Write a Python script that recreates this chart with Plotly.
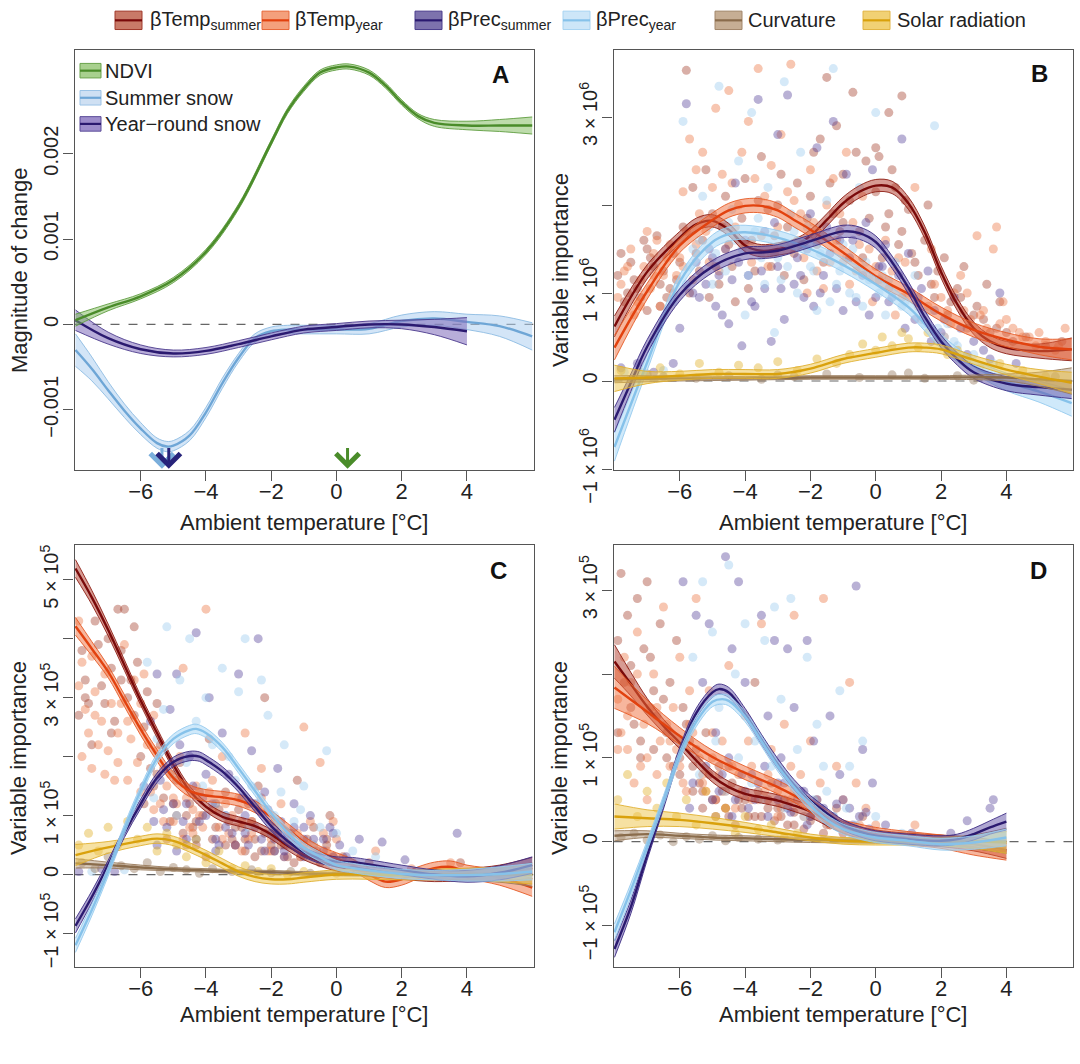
import plotly.graph_objects as go

FONT = "Liberation Sans, Arial, Helvetica, sans-serif"
W, H = 1080, 1064

# ---------------- Panel A : magnitude of change ----------------
A_ndvi_x = [-8, -7, -6, -5, -4, -3, -2, -1.5, -1, -0.5, 0, 0.4, 1, 1.5, 2, 2.5, 3, 4, 5, 6]
A_ndvi_y = [0.00005, 0.0002, 0.00033, 0.00052, 0.00085, 0.00138, 0.00213, 0.0025, 0.00276, 0.00295,
            0.00301, 0.00302, 0.00295, 0.0028, 0.0026, 0.00244, 0.00236, 0.00233, 0.00233, 0.00233]
A_ndvi_hw = [0.00007, 0.00004, 0.00003, 0.00003, 0.00003, 0.00003, 0.00003, 0.00003, 0.00003, 0.00003,
             0.00003, 0.00003, 0.00003, 0.00003, 0.00003, 0.00003, 0.00004, 0.00005, 0.00007, 0.0001]

A_ss_x = [-8, -7.5, -7, -6.5, -6, -5.5, -5.2, -5, -4.5, -4, -3.5, -3, -2.5, -2, -1.5, -1, 0, 1, 2, 3, 4, 5, 6]
A_ss_y = [-0.0003, -0.00052, -0.00077, -0.00101, -0.00122, -0.00139, -0.00143, -0.00142, -0.0013, -0.00103,
          -0.00069, -0.00039, -0.00016, -0.00008, -0.00006, -0.00006, -0.00006, -0.00005, 0.00004, 0.00007,
          0.00003, -0.00002, -0.00014]
A_ss_hw = [0.00019, 0.00014, 0.0001, 0.00008, 0.00007, 0.00006, 0.00006, 0.00006, 0.00006, 0.00006, 0.00006,
           0.00005, 0.00005, 0.00005, 0.00005, 0.00005, 0.00005, 0.00006, 0.00007, 0.00008, 0.00009, 0.00012, 0.00016]

A_yr_x = [-8, -7, -6, -5, -4, -3, -2, -1, 0, 1, 2, 3, 4]
A_yr_y = [0.00005, -0.00016, -0.00029, -0.00034, -0.00031, -0.00023, -0.00014, -0.00006, -0.00003, 0.0, 0.0,
          -0.00003, -0.00008]
A_yr_hw = [0.00012, 0.00007, 0.00005, 0.00004, 0.00004, 0.00004, 0.00004, 0.00004, 0.00004, 0.00004, 0.00005,
           0.00009, 0.00016]

A_arrow_x = [-5.35, -5.14, 0.34]
A_arrow_top = -0.0013
A_arrow_tip = -0.00169

# ---------------- Panel B (units of 1e6) ----------------
B_ts_x = [-8, -7, -6, -5.5, -5, -4.5, -4, -3.5, -3, -2.5, -2, -1.5, -1, -0.5, 0, 0.5, 1, 1.5, 2, 2.5, 3, 3.5, 4, 5, 6]
B_ts_y = [0.62, 1.24, 1.63, 1.78, 1.82, 1.72, 1.54, 1.48, 1.50, 1.54, 1.65, 1.83, 2.02, 2.15, 2.22, 2.20, 2.02,
          1.69, 1.24, 0.87, 0.60, 0.45, 0.38, 0.34, 0.36]
B_ts_hw = [0.12, 0.08] + [0.07] * 21 + [0.08, 0.13]

B_ty_x = [-8, -7, -6, -5, -4.5, -4, -3.5, -3, -2.5, -2, -1, 0, 1, 2, 3, 4, 5, 6]
B_ty_y = [0.38, 1.02, 1.54, 1.83, 1.94, 1.99, 1.99, 1.94, 1.83, 1.72, 1.46, 1.19, 0.99, 0.76, 0.58, 0.47, 0.39, 0.36]
B_ty_hw = [0.14, 0.09] + [0.08] * 13 + [0.08, 0.09, 0.12]

B_ps_x = [-8, -7.5, -7, -6, -5, -4, -3.5, -3, -2, -1, -0.5, 0, 0.5, 1, 1.5, 2, 2.5, 3, 4, 5, 6]
B_ps_y = [-0.44, -0.02, 0.39, 0.98, 1.30, 1.45, 1.46, 1.48, 1.59, 1.70, 1.68, 1.58, 1.35, 1.06, 0.73, 0.45, 0.25,
          0.10, -0.03, -0.07, -0.10]
B_ps_hw = [0.14, 0.1, 0.08] + [0.07] * 15 + [0.08, 0.09, 0.1]

B_py_x = [-8, -7, -6, -5, -4.5, -4, -3, -2, -1, 0, 1, 1.5, 2, 3, 4, 5, 6]
B_py_y = [-0.75, 0.21, 1.13, 1.58, 1.67, 1.69, 1.63, 1.50, 1.32, 1.10, 0.84, 0.65, 0.45, 0.17, -0.01, -0.12, -0.25]
B_py_hw = [0.16, 0.09] + [0.08] * 12 + [0.1, 0.12, 0.15]

B_cu_x = [-8, -6, -4, -2, 0, 2, 4, 5, 6]
B_cu_y = [0.02, 0.03, 0.03, 0.04, 0.04, 0.04, 0.04, 0.02, 0.0]
B_cu_hw = [0.04, 0.03, 0.02, 0.02, 0.02, 0.02, 0.04, 0.08, 0.15]

B_so_x = [-8, -7, -6, -5, -4, -3, -2, -1, 0, 1, 1.5, 2, 3, 4, 5, 6]
B_so_y = [0.03, 0.04, 0.06, 0.08, 0.08, 0.08, 0.14, 0.25, 0.32, 0.38, 0.38, 0.36, 0.24, 0.13, 0.05, -0.02]
B_so_hw = [0.15, 0.07] + [0.05] * 11 + [0.06, 0.08, 0.12]

# scatter points panel B
B_ts_px = [-7.9, -7.7, -7.5, -7.3, -7.1, -7.0, -6.8, -6.6, -6.4, -6.2, -5.9, -5.8, -5.6, -5.4, -5.2, -5.0, -4.8,
           -4.6, -4.3, -4.0, -3.8, -3.5, -3.2, -3.0, -2.7, -2.4, -2.2, -1.9, -1.7, -1.5, -1.3, -1.2, -1.0, -0.7,
           -0.5, -0.3, 0.0, 0.2, 0.4, 0.6, 0.8, 1.0, 1.3, 1.6, 1.8, 2.2, 2.5, 2.8, 3.1, 3.5, 3.8, 4.2, 4.6, 5.2, 5.7,
           -7.8, -7.4, -7.2, -6.9, -6.7, -6.5, -6.3, -6.0, -5.7, -5.3, -4.9, -4.5, -4.1, -3.7, -3.3, -2.9, -2.5,
           -2.1, -1.8, -1.4, -1.1, -0.8, -0.6, -0.2, 0.1, 0.3, 0.5, 0.7, 0.9, 1.1, 1.5, 1.9, 2.3, 2.7, 3.3, 3.7,
           -7.6, -7.0, -6.6, -6.1, -5.5, -5.1, -4.7, -4.4, -3.9, -3.6, -3.1, -2.8, -2.3, -2.0, -1.6, -1.0, -0.4,
           0.0, 0.4, 0.8, 1.2, 1.7, 2.1, 2.6, 3.0, 3.4, 4.0]
B_ts_py = [1.2, 0.9, 1.35, 1.05, 1.6, 0.8, 1.3, 1.1, 0.95, 1.45, 1.75, 3.53, 2.2, 1.25, 2.4, 1.9, 1.1, 2.1, 0.9,
           2.3, 1.6, 2.55, 1.3, 2.0, 1.75, 2.25, 1.15, 2.6, 2.75, 3.45, 1.9, 2.9, 2.35, 3.28, 1.7, 2.5, 2.15, 1.4,
           3.05, 2.2, 3.24, 1.95, 1.2, 2.0, 0.95, 0.75, 1.05, 0.6, 0.85, 0.55, 0.9, 0.45, 0.5, 0.4, 0.45,
           1.45, 1.15, 0.95, 1.4, 1.65, 1.25, 1.05, 1.35, 1.0, 1.6, 1.3, 1.55, 1.85, 1.25, 1.95, 2.35, 1.45, 1.85,
           1.55, 2.25, 1.7, 2.05, 2.6, 1.85, 2.55, 1.75, 2.4, 1.55, 2.05, 1.45, 1.6, 1.25, 0.9, 1.3, 0.7, 0.6,
           1.0, 1.5, 0.85, 1.15, 1.45, 0.95, 1.75, 1.3, 1.05, 2.05, 1.65, 1.2, 1.55, 2.1, 1.35, 1.8, 1.4,
           2.65, 1.9, 1.7, 1.35, 1.1, 1.4, 0.95, 0.75, 1.1, 0.55]
B_ty_px = [-7.9, -7.6, -7.4, -7.2, -7.0, -6.8, -6.6, -6.3, -6.1, -5.9, -5.7, -5.5, -5.3, -5.1, -4.9, -4.7, -4.5,
           -4.3, -4.1, -3.9, -3.6, -3.4, -3.1, -2.9, -2.6, -2.3, -2.0, -1.8, -1.5, -1.2, -0.9, -0.6, -0.4, -0.1,
           0.3, 0.6, 0.9, 1.2, 1.4, 1.7, 2.1, 2.4, 2.7, 3.1, 3.4, 3.6, 3.7, 4.0, 4.4, 4.9, 5.5, 5.8,
           -7.8, -7.5, -7.3, -7.1, -6.9, -6.7, -6.5, -6.2, -6.0, -5.8, -5.6, -5.4, -5.0, -4.6, -4.2, -3.8, -3.5,
           -3.2, -2.8, -2.5, -2.2, -1.9, -1.6, -1.3, -1.0, -0.7, -0.2, 0.1, 0.5, 0.8, 1.1, 1.6, 2.0, 2.3, 2.6,
           2.9, 3.3, 3.9, 4.2, 4.7, 5.2,
           -7.7, -7.2, -6.8, -6.4, -5.9, -5.5, -5.2, -4.8, -4.4, -4.0, -3.7, -3.3, -3.0, -2.7, -2.4, -2.1, -1.7,
           -1.4, -1.1, -0.8, -0.5, 0.0, 0.4, 0.7, 1.3, 1.8, 2.2, 2.8, 3.2, 3.8, 4.5, 5.0, 5.6]
B_ty_py = [0.95, 1.3, 0.75, 1.15, 1.7, 1.45, 0.85, 1.55, 1.2, 2.15, 2.75, 1.55, 2.6, 1.35, 3.1, 2.35, 3.3, 1.75,
           2.6, 2.95, 3.55, 2.1, 1.45, 2.8, 3.6, 1.9, 2.4, 1.25, 2.0, 1.6, 2.6, 1.25, 2.1, 0.9, 1.6, 0.75, 1.35,
           2.2, 0.7, 1.5, 0.5, 1.0, 0.8, 1.65, 0.6, 1.5, 1.75, 0.7, 0.55, 0.4, 0.35, 0.6,
           1.1, 1.5, 0.9, 1.3, 1.05, 1.6, 1.2, 1.0, 1.4, 1.7, 1.15, 1.9, 2.2, 1.5, 2.0, 1.35, 1.65, 2.45, 1.55,
           2.05, 1.4, 1.8, 1.05, 2.3, 1.35, 1.8, 1.5, 1.15, 1.25, 0.95, 1.0, 0.85, 0.95, 0.65, 1.2, 0.7, 0.8, 0.9,
           0.6, 0.5, 0.45,
           1.25, 0.85, 1.2, 1.4, 1.3, 2.4, 1.7, 1.25, 2.25, 1.55, 2.3, 1.3, 1.75, 2.15, 1.6, 1.0, 1.65, 1.35,
           1.9, 1.1, 1.55, 1.3, 1.05, 1.4, 0.85, 1.1, 0.8, 1.0, 0.75, 0.65, 0.5, 0.55, 0.4]
B_ps_px = [-7.8, -7.3, -6.8, -6.2, -5.8, -5.5, -5.2, -4.9, -4.6, -4.3, -4.1, -3.9, -3.6, -3.4, -3.2, -3.0, -2.9,
           -2.7, -2.4, -2.2, -2.0, -1.8, -1.6, -1.3, -1.1, -0.9, -0.6, -0.3, -0.1, 0.2, 0.5, 0.8, 1.0, 1.4, 1.8,
           2.2, 2.6, 3.0, 3.5, 3.8, 4.3,
           -5.6, -5.0, -4.7, -4.4, -4.0, -3.7, -3.5, -3.1, -2.8, -2.5, -2.1, -1.9, -1.5, -1.2, -0.8, -0.4, 0.0,
           0.3, 0.7, 1.2, 1.6, 2.0, 2.4, 3.3,
           -6.0, -5.4, -5.1, -4.8, -4.5, -4.2, -3.8, -3.4, -3.0, -2.6, -2.3, -1.7, -1.4, -1.0, -0.7, -0.2, 0.1,
           0.4, 0.9, 1.3, 1.7, 2.1, 2.8]
B_ps_py = [0.15, 0.2, 0.1, 0.2, 3.15, 1.35, 1.1, 0.85, 1.5, 2.25, 0.4, 1.2, 3.2, 1.7, 0.45, 2.8, 1.05, 3.25, 1.4,
           0.95, 1.9, 2.65, 1.2, 2.95, 1.6, 2.35, 0.9, 1.8, 2.4, 1.3, 0.95, 2.75, 1.45, 1.05, 0.8, 0.35, 0.6, 0.45,
           0.25, 1.0, 0.2,
           1.0, 1.4, 0.75, 1.15, 1.6, 0.85, 1.25, 1.8, 0.7, 1.1, 1.5, 0.85, 1.75, 1.05, 1.4, 1.2, 0.95, 1.55, 1.2,
           0.7, 1.25, 0.55, 0.95, 0.35,
           0.6, 0.95, 1.5, 1.2, 0.65, 1.35, 0.9, 1.05, 1.3, 1.55, 1.2, 1.0, 1.45, 0.8, 1.6, 0.75, 1.3, 0.9, 0.6,
           0.95, 0.45, 0.7, 0.3]
B_py_px = [-7.7, -7.0, -6.5, -5.9, -5.6, -5.3, -5.0, -4.8, -4.5, -4.2, -4.0, -3.8, -3.5, -3.3, -3.1, -2.8, -2.5,
           -2.3, -2.0, -1.8, -1.5, -1.3, -1.0, -0.8, -0.5, -0.2, 0.0, 0.3, 0.6, 0.9, 1.2, 1.5, 1.8, 2.1, 2.5, 3.0, 3.6,
           -5.7, -5.1, -4.6, -4.3, -3.9, -3.6, -3.2, -2.9, -2.6, -2.2, -1.9, -1.6, -1.2, -0.9, -0.6, -0.3, 0.1,
           0.4, 0.8, 1.3, 1.6, 2.2,
           -6.2, -5.8, -5.4, -4.9, -4.4, -4.1, -3.7, -3.4, -3.0, -2.7, -2.4, -2.1, -1.7, -1.4, -1.1, -0.7, -0.4,
           0.2, 0.5, 1.0, 1.4, 1.9, 2.4]
B_py_py = [0.1, 0.05, 0.12, 2.95, 1.5, 2.1, 1.1, 3.35, 1.8, 2.5, 0.75, 3.05, 1.4, 2.2, 0.55, 3.4, 1.7, 2.6, 1.3,
           0.8, 2.05, 3.55, 1.55, 1.0, 2.2, 1.15, 3.05, 0.75, 1.35, 0.9, 1.2, 0.65, 2.9, 0.5, 0.4, 0.3, 0.2,
           1.3, 1.75, 1.25, 1.6, 1.2, 1.85, 1.45, 1.15, 1.9, 1.55, 1.25, 1.65, 1.1, 1.4, 0.95, 1.35, 1.0, 1.15,
           0.85, 0.9, 0.8, 0.65,
           0.9, 1.1, 1.6, 1.45, 1.95, 1.5, 1.7, 1.1, 1.4, 1.3, 1.0, 1.75, 1.45, 0.9, 1.25, 1.5, 0.85, 1.2, 0.95,
           1.0, 0.7, 0.6, 0.45]
B_so_px = [-7.8, -7.2, -6.6, -6.0, -5.4, -4.8, -4.2, -3.6, -3.0, -2.4, -1.8, -1.2, -0.8, -0.4, 0.0, 0.2, 0.5, 0.8,
           1.0, 1.3, 1.6, 1.9, 2.2, 2.5, 2.8, 3.2, 3.8, 4.5, 5.2]
B_so_py = [0.12, 0.1, 0.15, 0.08, 0.2, 0.1, 0.18, 0.15, 0.22, 0.12, 0.25, 0.2, 0.3, 0.42, 0.35, 0.5, 0.4, 0.55,
           0.48, 0.38, 0.55, 0.45, 0.3, 0.35, 0.25, 0.15, 0.2, 0.12, 0.05]
B_cu_px = [-7.5, -7.0, -6.5, -5.5, -4.5, -3.5, -3.0, -2.5, -1.5, -0.5, 0.5, 1.0, 1.5, 2.5, 3.0, 3.5, 4.5, 5.5]
B_cu_py = [0.02, 0.08, 0.05, 0.03, 0.06, 0.02, 0.07, 0.05, 0.08, 0.04, 0.07, 0.09, 0.03, 0.06, 0.01, 0.04, 0.02, 0.05]

# ---------------- Panel C (units of 1e5) ----------------
C_ts_x = [-8, -7.5, -7, -6.5, -6, -5.5, -5, -4.5, -4, -3.5, -3, -2.5, -2, -1.5, -1, -0.5, 0, 1, 2, 3, 4, 5, 6]
C_ts_y = [5.19, 4.70, 4.15, 3.55, 2.95, 2.40, 1.86, 1.42, 1.15, 0.98, 0.90, 0.82, 0.68, 0.49, 0.33, 0.22, 0.14,
          0.05, 0.0, -0.03, 0.0, 0.03, 0.11]
C_ts_hw = [0.15, 0.12, 0.1, 0.09] + [0.08] * 15 + [0.09, 0.1, 0.13, 0.18]

C_ty_x = [-8, -7.5, -7, -6.5, -6, -5.5, -5, -4.5, -4, -3.5, -3, -2.5, -2, -1.5, -1, -0.5, 0, 0.5, 1, 1.5, 2, 2.5,
          3, 3.5, 4, 5, 6]
C_ty_y = [4.21, 3.83, 3.44, 2.95, 2.46, 2.02, 1.64, 1.42, 1.34, 1.31, 1.26, 1.15, 0.98, 0.77, 0.55, 0.38, 0.27,
          0.16, 0.0, -0.12, -0.08, 0.03, 0.11, 0.13, 0.05, -0.05, -0.22]
C_ty_hw = [0.15, 0.12] + [0.1] * 22 + [0.11, 0.13, 0.15]

C_ps_x = [-8, -7.5, -7, -6.5, -6, -5.5, -5, -4.5, -4.2, -4, -3.5, -3, -2.5, -2, -1.5, -1, -0.5, 0, 0.5, 1, 2, 3,
          4, 5, 6]
C_ps_y = [-0.87, -0.38, 0.16, 0.71, 1.20, 1.64, 1.91, 2.01, 2.0, 1.94, 1.75, 1.48, 1.15, 0.82, 0.57, 0.38, 0.27,
          0.22, 0.21, 0.17, 0.08, 0.0, -0.03, 0.03, 0.16]
C_ps_hw = [0.12, 0.1] + [0.08] * 20 + [0.1, 0.12, 0.14]

C_py_x = [-8, -7.5, -7, -6.5, -6, -5.5, -5, -4.5, -4.3, -4, -3.5, -3, -2.5, -2, -1.5, -1, -0.5, 0, 0.5, 1, 2, 3,
          4, 5, 6]
C_py_y = [-1.2, -0.6, 0.05, 0.77, 1.42, 1.97, 2.30, 2.45, 2.47, 2.40, 2.16, 1.80, 1.42, 1.04, 0.71, 0.46, 0.30,
          0.16, 0.11, 0.07, 0.01, -0.01, -0.01, 0.01, 0.05]
C_py_hw = [0.12, 0.1] + [0.08] * 20 + [0.1, 0.12, 0.14]

C_so_x = [-8, -7, -6, -5.5, -5, -4.5, -4, -3.5, -3, -2.5, -2, -1.5, -1, 0, 1, 2, 3, 4, 5, 6]
C_so_y = [0.33, 0.46, 0.57, 0.61, 0.57, 0.46, 0.33, 0.19, 0.05, -0.04, -0.08, -0.08, -0.05, 0.0, 0.0, -0.01, 0.0,
          0.01, 0.0, 0.0]
C_so_hw = [0.18, 0.1] + [0.08] * 14 + [0.09, 0.1, 0.12, 0.16]

C_cu_x = [-8, -7, -6, -5, -4, -3, -2, -1, 0, 2, 4, 5, 6]
C_cu_y = [0.19, 0.16, 0.12, 0.09, 0.07, 0.05, 0.04, 0.02, 0.01, 0.0, -0.02, -0.01, 0.0]
C_cu_hw = [0.08, 0.05, 0.04, 0.03, 0.03, 0.03, 0.03, 0.03, 0.03, 0.04, 0.08, 0.12, 0.2]

C_ts_px = [-7.9, -7.7, -7.5, -7.3, -7.1, -6.9, -6.7, -6.5, -6.4, -6.2, -6.1, -5.9, -5.7, -5.5, -5.3, -5.1, -4.9,
           -4.7, -4.5, -4.3, -4.1, -3.9, -3.7, -3.4, -3.2, -3.0, -2.8, -2.6, -2.4, -2.2, -2.0, -1.8, -1.5, -1.2,
           -1.0, -0.7, -0.5, -0.2, 0.2, 1.0, 3.8,
           -7.8, -7.6, -7.2, -7.0, -6.8, -6.6, -6.3, -6.0, -5.8, -5.6, -5.4, -5.0, -4.8, -4.6, -4.4, -4.2, -3.8,
           -3.6, -3.3, -3.1, -2.9, -2.7, -2.5, -2.3, -1.9, -1.7, -1.4, -1.1, -0.9, -0.6, -0.3, -0.1,
           -7.7, -7.4, -6.9, -6.6, -6.2, -5.9, -5.5, -5.2, -4.9, -4.6, -4.3, -4.0, -3.7, -3.4, -3.1, -2.8, -2.5,
           -2.2, -1.9, -1.6, -1.3, -1.0, -0.6, -0.3]
C_ts_py = [2.7, 3.3, 2.2, 3.9, 2.9, 3.5, 4.5, 4.5, 3.0, 4.2, 3.6, 2.5, 1.8, 2.9, 1.3, 0.9, 1.6, 0.7, 1.2, 0.5, 1.0,
           2.3, 0.8, 1.4, 0.6, 1.1, 0.4, 0.9, 1.5, 3.0, 0.5, 0.7, 0.3, 1.6, 0.4, 0.8, 0.2, 1.0, 0.3, 0.2, 0.2,
           3.8, 2.9, 3.2, 4.0, 2.6, 3.8, 3.3, 2.0, 3.1, 1.5, 2.2, 1.2, 1.9, 1.0, 0.8, 1.4, 0.6, 1.1, 0.9, 0.5, 0.8,
           1.2, 0.6, 0.4, 0.9, 0.5, 0.7, 0.3, 0.6, 0.4, 0.5, 0.3,
           3.0, 4.3, 2.4, 3.3, 2.7, 1.2, 1.7, 0.6, 1.0, 0.5, 0.9, 0.3, 1.2, 0.5, 0.8, 0.6, 0.3, 0.7, 0.4, 0.5,
           0.2, 0.5, 0.3, 0.6]
C_ty_px = [-7.9, -7.8, -7.6, -7.5, -7.4, -7.2, -7.0, -6.8, -6.6, -6.5, -6.3, -6.1, -5.9, -5.7, -5.5, -5.3, -5.1,
           -4.9, -4.7, -4.5, -4.3, -4.0, -3.8, -3.5, -3.3, -3.0, -2.8, -2.6, -2.3, -2.0, -1.7, -1.4, -1.0, -0.8,
           -0.5, -0.3, 0.0, 0.5, 1.2, 2.3, 3.5,
           -7.9, -7.7, -7.5, -7.3, -7.1, -6.9, -6.7, -6.4, -6.2, -6.0, -5.8, -5.6, -5.4, -5.2, -5.0, -4.8, -4.6,
           -4.4, -4.2, -3.9, -3.6, -3.4, -3.1, -2.9, -2.7, -2.4, -2.1, -1.9, -1.6, -1.2, -0.9, -0.6, -0.1,
           -7.8, -7.4, -7.1, -6.7, -6.4, -6.0, -5.6, -5.3, -5.0, -4.7, -4.4, -4.1, -3.8, -3.5, -3.2, -2.9, -2.6,
           -2.3, -2.0, -1.7, -1.4, -1.1, -0.7, -0.4]
C_ty_py = [4.3, 3.6, 2.4, 1.8, 3.1, 2.6, 2.1, 1.6, 2.9, 3.9, 2.3, 1.9, 3.4, 1.4, 2.1, 0.9, 1.7, 1.2, 3.5, 0.8, 1.5,
           4.5, 1.1, 2.0, 0.7, 1.3, 2.4, 0.9, 1.8, 0.6, 1.2, 0.5, 2.5, 0.9, 1.9, 0.4, 0.6, 0.2, 0.4, 0.1, 0.2,
           3.2, 2.8, 3.7, 2.2, 3.4, 2.9, 1.9, 2.6, 3.3, 1.4, 2.2, 2.7, 1.2, 1.5, 0.9, 2.0, 1.3, 0.7, 1.0, 1.4, 0.8,
           1.2, 0.5, 0.9, 0.6, 1.1, 0.4, 0.8, 0.3, 0.7, 0.5, 0.3, 0.9,
           2.0, 2.7, 1.7, 2.4, 1.6, 2.9, 1.1, 1.8, 1.3, 0.6, 1.1, 0.8, 1.6, 0.6, 1.0, 0.4, 0.7, 1.3, 0.4, 0.8,
           0.6, 0.3, 0.5, 0.7]
C_ps_px = [-7.9, -7.2, -6.8, -5.9, -5.7, -5.5, -5.3, -5.1, -4.9, -4.7, -4.5, -4.3, -4.1, -3.9, -3.7, -3.5, -3.3,
           -3.0, -2.8, -2.6, -2.4, -2.2, -2.0, -1.8, -1.6, -1.3, -1.0, -0.8, -0.5, -0.2, 0.3, 0.7, 1.4, 2.1, 3.7,
           -5.6, -5.4, -5.0, -4.8, -4.6, -4.4, -4.2, -4.0, -3.8, -3.6, -3.4, -3.2, -2.9, -2.7, -2.5, -2.3, -2.1,
           -1.9, -1.7, -1.5, -1.2, -1.0, -0.7, -0.4, -0.1, 0.1,
           -5.5, -5.2, -4.9, -4.6, -4.3, -4.0, -3.7, -3.4, -3.1, -2.8, -2.5, -2.2, -1.9, -1.6, -1.3, -1.0, -0.7,
           -0.4, -0.1]
C_ps_py = [0.05, 0.1, 0.05, 1.5, 2.6, 3.4, 1.1, 2.8, 3.4, 0.9, 2.0, 4.1, 1.3, 3.0, 0.6, 2.4, 1.7, 3.4, 1.0, 2.1,
           4.0, 1.4, 0.7, 1.8, 0.4, 1.2, 0.6, 1.0, 0.3, 0.8, 0.3, 0.6, 0.55, 0.25, 0.7,
           0.9, 1.6, 1.2, 2.2, 0.6, 1.5, 0.9, 1.7, 1.2, 0.5, 1.0, 0.7, 1.3, 0.5, 0.8, 0.6, 1.1, 0.4, 0.9, 0.7, 0.5,
           0.8, 0.4, 0.6, 0.3, 0.5,
           0.5, 0.8, 0.4, 1.2, 0.6, 1.0, 0.4, 0.8, 0.5, 0.7, 1.2, 0.4, 0.6, 0.3, 0.8, 0.3, 0.6, 0.4, 0.7]
C_py_px = [-7.5, -6.5, -5.8, -5.5, -5.2, -5.0, -4.8, -4.5, -4.3, -4.0, -3.7, -3.5, -3.3, -3.0, -2.8, -2.6, -2.3,
           -2.1, -1.9, -1.6, -1.3, -1.0, -0.7, -0.3, 0.0, 0.5, 1.2,
           -5.6, -5.3, -4.9, -4.6, -4.1, -3.8, -3.4, -3.1, -2.7, -2.4, -2.0, -1.7, -1.4, -1.1, -0.8, -0.5]
C_py_py = [0.05, 0.08, 3.6, 2.3, 4.2, 1.7, 3.3, 4.0, 2.6, 3.0, 1.2, 3.5, 2.0, 3.1, 4.0, 1.5, 3.3, 2.7, 1.0, 2.2,
           0.9, 1.5, 0.5, 2.1, 0.7, 0.4, 0.3,
           1.3, 2.8, 1.0, 1.9, 1.5, 2.2, 1.0, 1.6, 0.8, 1.2, 0.7, 1.4, 0.5, 1.1, 0.4, 0.8]
C_so_px = [-7.9, -7.6, -7.3, -7.0, -6.7, -6.4, -6.1, -5.8, -5.5, -5.2, -4.9, -4.6, -4.3, -4.0, -3.6, -3.2, -2.8,
           -2.4, -2.0, -1.5, -1.0, 0.0, 1.0]
C_so_py = [0.5, 0.7, 0.4, 0.8, 0.5, 0.9, 0.6, 0.8, 0.4, 0.7, 0.5, 0.3, 0.6, 0.2, 0.4, 0.1, 0.15, 0.05, 0.1, 0.0,
           0.05, 0.02, 0.0]
C_cu_px = [-7.8, -7.4, -7.0, -6.6, -6.2, -5.8, -5.4, -5.0, -4.6, -4.2, -3.8, -3.2, -2.6, -2.0, -1.4, -0.8]
C_cu_py = [0.2, 0.1, 0.3, 0.15, 0.1, 0.2, 0.05, 0.12, 0.08, 0.02, 0.1, 0.05, 0.08, 0.03, 0.05, 0.02]

# ---------------- Panel D (units of 1e5) ----------------
D_ts_x = [-8, -7.5, -7, -6.5, -6, -5.5, -5, -4.5, -4, -3.5, -3, -2.5, -2, -1.5, -1, -0.5, 0, 1, 2, 3, 4]
D_ts_y = [2.15, 1.88, 1.61, 1.38, 1.18, 0.97, 0.78, 0.65, 0.57, 0.53, 0.49, 0.43, 0.36, 0.26, 0.17, 0.11, 0.07,
          0.03, 0.01, -0.03, -0.10]
D_ts_hw = [0.2, 0.14, 0.1, 0.08] + [0.07] * 14 + [0.07, 0.08, 0.1]

D_ty_x = [-8, -7, -6, -5, -4, -3, -2.5, -2, -1.5, -1, -0.5, 0, 1, 2, 3, 4]
D_ty_y = [1.84, 1.55, 1.26, 1.01, 0.82, 0.65, 0.55, 0.43, 0.30, 0.18, 0.13, 0.09, 0.04, 0.0, -0.07, -0.12]
D_ty_hw = [0.25, 0.14, 0.1] + [0.08] * 11 + [0.09, 0.1]

D_ps_x = [-8, -7.5, -7, -6.5, -6, -5.5, -5, -4.8, -4.5, -4, -3.5, -3, -2.5, -2, -1.5, -1, -0.5, 0, 1, 2, 2.5, 3,
          3.5, 4]
D_ps_y = [-1.28, -0.78, -0.16, 0.45, 1.07, 1.53, 1.78, 1.82, 1.78, 1.53, 1.22, 0.93, 0.68, 0.49, 0.34, 0.20, 0.12,
          0.07, 0.03, 0.01, 0.03, 0.09, 0.17, 0.24]
D_ps_hw = [0.1, 0.08] + [0.06] * 19 + [0.07, 0.08, 0.1]

D_py_x = [-8, -7.5, -7, -6.5, -6, -5.5, -5, -4.7, -4.5, -4, -3.5, -3, -2.5, -2, -1.5, -1, -0.5, 0, 1, 2, 3, 4]
D_py_y = [-1.08, -0.58, -0.05, 0.49, 1.03, 1.43, 1.67, 1.70, 1.68, 1.49, 1.20, 0.90, 0.65, 0.43, 0.26, 0.15, 0.09,
          0.05, 0.01, -0.03, -0.01, 0.05]
D_py_hw = [0.1, 0.08] + [0.06] * 17 + [0.07, 0.08, 0.1]

D_so_x = [-8, -7, -6, -5, -4, -3, -2, -1, 0, 1, 2, 3, 4]
D_so_y = [0.30, 0.28, 0.26, 0.22, 0.17, 0.11, 0.05, 0.01, 0.0, 0.0, 0.0, 0.0, -0.01]
D_so_hw = [0.15, 0.1, 0.08, 0.07, 0.06, 0.05, 0.04, 0.04, 0.04, 0.04, 0.05, 0.08, 0.13]

D_cu_x = [-8, -7, -6, -5, -4, -2, 0, 2, 3, 4]
D_cu_y = [0.07, 0.09, 0.07, 0.05, 0.04, 0.02, 0.01, 0.0, 0.0, 0.01]
D_cu_hw = [0.06, 0.04, 0.03, 0.03, 0.03, 0.03, 0.03, 0.04, 0.08, 0.15]

D_ts_px = [-7.9, -7.8, -7.6, -7.5, -7.3, -7.2, -7.0, -6.9, -6.7, -6.6, -6.4, -6.3, -6.1, -6.0, -5.8, -5.6, -5.5,
           -5.3, -5.1, -4.9, -4.7, -4.5, -4.3, -4.0, -3.7, -3.5, -3.2, -3.0, -2.7, -2.4, -2.0, -1.6, -1.2, -0.8, -0.4,
           -7.7, -7.4, -7.1, -6.8, -6.5, -6.2, -5.9, -5.7, -5.4, -5.2, -5.0, -4.8, -4.6, -4.4, -4.2, -3.9, -3.6,
           -3.3, -3.1, -2.8, -2.5, -2.2, -1.8, -1.4, -1.0,
           -7.9, -7.5, -7.2, -6.8, -6.4, -6.0, -5.6, -5.3, -4.9, -4.5, -4.1, -3.7, -3.3, -2.9, -2.5, -2.0, -1.5]
D_ts_py = [2.4, 3.2, 2.7, 1.6, 2.9, 1.2, 3.1, 2.2, 1.5, 2.6, 1.0, 1.9, 2.4, 0.8, 1.4, 0.6, 1.1, 0.4, 0.8, 0.3, 0.6,
           0.9, 0.2, 0.5, 1.9, 0.3, 0.7, 0.4, 0.2, 0.6, 0.25, 0.1, 0.4, 0.15, 0.3,
           1.9, 1.4, 2.3, 1.1, 1.7, 0.9, 1.6, 1.2, 0.7, 1.3, 0.5, 0.9, 0.4, 0.7, 0.5, 0.3, 0.6, 0.4, 0.25, 0.5,
           0.35, 0.15, 0.4, 0.2, 0.1,
           1.3, 2.1, 1.0, 1.8, 1.3, 1.0, 0.9, 0.6, 0.5, 0.3, 0.4, 0.3, 0.5, 0.3, 0.2, 0.3, 0.2]
D_ty_px = [-7.9, -7.7, -7.6, -7.4, -7.3, -7.1, -7.0, -6.8, -6.6, -6.5, -6.3, -6.2, -6.0, -5.8, -5.6, -5.5, -5.3,
           -5.1, -4.9, -4.7, -4.5, -4.3, -4.0, -3.8, -3.5, -3.2, -3.0, -2.8, -2.5, -2.3, -2.0, -1.8, -1.6, -1.2,
           -0.8, -0.6, -0.3, 0.0, 1.2,
           -7.8, -7.5, -7.2, -6.9, -6.7, -6.4, -6.1, -5.9, -5.7, -5.4, -5.2, -5.0, -4.8, -4.6, -4.4, -4.1, -3.9,
           -3.6, -3.3, -2.9, -2.6, -2.1, -1.7, -1.4, -1.0, -0.5,
           -7.9, -7.6, -7.3, -7.0, -6.7, -6.3, -6.0, -5.7, -5.3, -5.0, -4.6, -4.2, -3.8, -3.4, -3.0, -2.6, -2.2,
           -1.8, -1.4]
D_ty_py = [1.7, 2.2, 1.1, 0.7, 2.5, 1.4, 0.5, 2.0, 1.2, 2.8, 0.9, 1.6, 2.2, 0.6, 1.3, 2.9, 0.8, 1.8, 0.5, 1.2, 2.1,
           0.4, 1.5, 0.9, 2.6, 1.1, 0.6, 1.4, 2.7, 0.8, 1.2, 0.5, 2.9, 0.9, 1.9, 0.7, 0.4, 0.2, 0.2,
           1.3, 1.9, 0.9, 1.6, 0.8, 1.4, 1.1, 0.7, 1.8, 1.0, 0.6, 1.3, 0.8, 0.4, 0.9, 0.6, 1.2, 0.5, 0.8, 0.4, 0.9,
           0.5, 0.7, 0.3, 0.5, 0.2,
           1.1, 1.5, 2.0, 1.0, 1.6, 1.2, 0.9, 1.4, 0.7, 1.0, 0.6, 0.8, 0.5, 0.6, 0.3, 0.5, 0.3, 0.4, 0.2]
D_ps_px = [-5.9, -5.5, -5.3, -5.1, -4.9, -4.6, -4.4, -4.2, -4.0, -3.8, -3.5, -3.3, -3.1, -2.9, -2.7, -2.5, -2.3,
           -2.1, -1.9, -1.7, -1.4, -1.1, -0.8, -0.6, -0.4, -0.1, 0.3, 1.1, 2.3, 2.8, 3.5, 3.6,
           -5.7, -5.2, -4.8, -4.5, -4.3, -4.1, -3.9, -3.6, -3.4, -3.0, -2.8, -2.6, -2.2, -2.0, -1.8, -1.5, -1.2,
           -0.9, -0.5, -0.2,
           -5.6, -5.0, -4.7, -4.4, -4.0, -3.7, -3.3, -3.0, -2.7, -2.4, -2.1, -1.6, -1.3, -1.0, -0.7, -0.3]
D_ps_py = [3.1, 2.7, 1.9, 2.6, 1.3, 3.4, 2.3, 3.1, 1.9, 0.8, 2.7, 1.5, 2.4, 1.0, 2.3, 1.6, 0.6, 2.4, 1.2, 0.4, 1.5,
           0.8, 0.4, 3.05, 1.1, 0.7, 0.2, 0.1, 0.1, 0.25, 0.4, 0.5,
           0.4, 0.9, 0.6, 1.0, 0.5, 0.8, 0.4, 0.7, 0.9, 0.5, 0.7, 0.35, 0.6, 0.3, 0.5, 0.25, 0.45, 0.2, 0.3, 0.15,
           0.7, 0.5, 0.8, 0.3, 0.6, 0.5, 0.3, 0.7, 0.4, 0.5, 0.2, 0.4, 0.3, 0.5, 0.2, 0.35]
D_py_px = [-5.6, -5.3, -5.0, -4.8, -4.5, -4.3, -4.0, -3.7, -3.4, -3.1, -2.9, -2.6, -2.4, -2.1, -1.8, -1.5, -1.1,
           -0.8, -0.4, 0.0, 0.8,
           -5.4, -4.9, -4.6, -4.2, -3.8, -3.5, -3.2, -2.8, -2.5, -2.2, -1.9, -1.6, -1.3, -0.9, -0.6]
D_py_py = [2.2, 3.1, 2.5, 1.6, 3.3, 2.0, 2.6, 1.2, 2.4, 2.8, 1.7, 2.9, 1.1, 2.2, 1.4, 0.6, 1.8, 0.9, 1.2, 0.3, 0.1,
           0.8, 1.2, 0.6, 1.0, 0.7, 0.5, 0.9, 0.4, 0.6, 0.3, 0.5, 0.9, 0.3, 0.4, 0.2]
D_so_px = [-7.9, -7.6, -7.3, -7.0, -6.7, -6.4, -6.1, -5.8, -5.5, -5.2, -4.9, -4.6, -4.3, -4.0, -3.6, -3.2, -2.8, -2.4]
D_so_py = [0.5, 0.8, 0.3, 0.6, 0.4, 0.7, 0.3, 0.5, 0.2, 0.6, 0.3, 0.4, 0.1, 0.3, 0.15, 0.2, 0.05, 0.1]
D_cu_px = [-7.8, -7.4, -7.0, -6.6, -6.2, -5.8, -5.4, -5.0, -4.6, -4.2, -3.6, -3.0]
D_cu_py = [0.05, 0.1, 0.02, 0.08, 0.0, 0.06, 0.03, 0.07, 0.01, 0.05, 0.03, 0.02]

# ---------------- styles ----------------
STY = {
    "ts": dict(line="#7a0a0a", edge="#8e1f15", fill="rgba(175,55,40,0.50)", pt="rgba(165,65,45,0.42)",
               sw_fill="#c97a68", sw_edge="#a0382a"),
    "ty": dict(line="#e2420f", edge="#e55a25", fill="rgba(240,110,60,0.50)", pt="rgba(235,120,70,0.42)",
               sw_fill="#f4a07c", sw_edge="#e8683a"),
    "ps": dict(line="#2b1a70", edge="#3d2c85", fill="rgba(95,80,165,0.50)", pt="rgba(80,60,150,0.40)",
               sw_fill="#7d72ad", sw_edge="#4b3d8c"),
    "py": dict(line="#86c2ea", edge="#96cbee", fill="rgba(175,218,246,0.60)", pt="rgba(150,200,238,0.40)",
               sw_fill="#cde6f8", sw_edge="#a8d4f2"),
    "cu": dict(line="#8a6c4c", edge="#9a7c5c", fill="rgba(175,148,118,0.50)", pt="rgba(145,115,85,0.42)",
               sw_fill="#c6ae94", sw_edge="#a2866a"),
    "so": dict(line="#d9a10c", edge="#e0b030", fill="rgba(238,195,70,0.50)", pt="rgba(225,175,35,0.42)",
               sw_fill="#f1d174", sw_edge="#e2b444"),
    "ndvi": dict(line="#4a8c2a", edge="#5f9d40", fill="rgba(125,185,90,0.50)", sw_fill="#a8d08e",
                 sw_edge="#6aa34c"),
    "ss": dict(line="#6ea6d6", edge="#8cbbe2", fill="rgba(175,208,240,0.55)", sw_fill="#cfe0f3",
               sw_edge="#9cc3e6"),
    "yr": dict(line="#2b1a70", edge="#4b3a8c", fill="rgba(125,105,185,0.55)", sw_fill="#9d8dcb",
               sw_edge="#5a4a98"),
}

fig = go.Figure()


def add_points(px, py, key, xa, ya):
    fig.add_trace(go.Scatter(x=px, y=py, mode="markers", xaxis=xa, yaxis=ya, showlegend=False,
                             hoverinfo="skip",
                             marker=dict(size=9, color=STY[key]["pt"], line=dict(width=0))))


def add_band(xs, ys, hw, key, xa, ya, lw=2.4):
    s = STY[key]
    lo = [y - h for y, h in zip(ys, hw)]
    up = [y + h for y, h in zip(ys, hw)]
    fig.add_trace(go.Scatter(x=xs, y=lo, mode="lines", xaxis=xa, yaxis=ya, showlegend=False, hoverinfo="skip",
                             line=dict(color=s["edge"], width=0.9, shape="spline", smoothing=1.0)))
    fig.add_trace(go.Scatter(x=xs, y=up, mode="lines", xaxis=xa, yaxis=ya, showlegend=False, hoverinfo="skip",
                             fill="tonexty", fillcolor=s["fill"],
                             line=dict(color=s["edge"], width=0.9, shape="spline", smoothing=1.0)))
    fig.add_trace(go.Scatter(x=xs, y=ys, mode="lines", xaxis=xa, yaxis=ya, showlegend=False, hoverinfo="skip",
                             line=dict(color=s["line"], width=lw, shape="spline", smoothing=1.0)))


# Panel A
add_band(A_ss_x, A_ss_y, A_ss_hw, "ss", "x", "y")
add_band(A_yr_x, A_yr_y, A_yr_hw, "yr", "x", "y")
add_band(A_ndvi_x, A_ndvi_y, A_ndvi_hw, "ndvi", "x", "y")

# Panels B, C, D
panels = [
    ("x2", "y2", [(B_ts_px, B_ts_py, "ts"), (B_ty_px, B_ty_py, "ty"), (B_ps_px, B_ps_py, "ps"),
                  (B_py_px, B_py_py, "py"), (B_cu_px, B_cu_py, "cu"), (B_so_px, B_so_py, "so")],
     [(B_ts_x, B_ts_y, B_ts_hw, "ts"), (B_ty_x, B_ty_y, B_ty_hw, "ty"), (B_py_x, B_py_y, B_py_hw, "py"),
      (B_ps_x, B_ps_y, B_ps_hw, "ps"), (B_cu_x, B_cu_y, B_cu_hw, "cu"), (B_so_x, B_so_y, B_so_hw, "so")]),
    ("x3", "y3", [(C_ts_px, C_ts_py, "ts"), (C_ty_px, C_ty_py, "ty"), (C_ps_px, C_ps_py, "ps"),
                  (C_py_px, C_py_py, "py"), (C_cu_px, C_cu_py, "cu"), (C_so_px, C_so_py, "so")],
     [(C_ts_x, C_ts_y, C_ts_hw, "ts"), (C_ty_x, C_ty_y, C_ty_hw, "ty"), (C_cu_x, C_cu_y, C_cu_hw, "cu"),
      (C_so_x, C_so_y, C_so_hw, "so"), (C_ps_x, C_ps_y, C_ps_hw, "ps"), (C_py_x, C_py_y, C_py_hw, "py")]),
    ("x4", "y4", [(D_ts_px, D_ts_py, "ts"), (D_ty_px, D_ty_py, "ty"), (D_ps_px, D_ps_py, "ps"),
                  (D_py_px, D_py_py, "py"), (D_cu_px, D_cu_py, "cu"), (D_so_px, D_so_py, "so")],
     [(D_ts_x, D_ts_y, D_ts_hw, "ts"), (D_ty_x, D_ty_y, D_ty_hw, "ty"), (D_cu_x, D_cu_y, D_cu_hw, "cu"),
      (D_so_x, D_so_y, D_so_hw, "so"), (D_ps_x, D_ps_y, D_ps_hw, "ps"), (D_py_x, D_py_y, D_py_hw, "py")]),
]
for xa, ya, pts, bands in panels:
    for px, py, k in pts:
        add_points(px, py, k, xa, ya)
    for xs, ys, hw, k in bands:
        add_band(xs, ys, hw, k, xa, ya)


# ---------------- layout ----------------
def px2x(p):
    return p / W


def px2y(p):
    return 1 - p / H


XDOM_L = [px2x(74.5), px2x(533.5)]
XDOM_R = [px2x(613.5), px2x(1073)]
YDOM_T = [px2y(485.5), px2y(51.5)]
YDOM_B = [px2y(999), px2y(563.5)]
XRANGE = [-8.03, 6.04]

xt_vals = [-6, -4, -2, 0, 2, 4]
xt_text = ["\u22126", "\u22124", "\u22122", "0", "2", "4"]

TICK = dict(ticks="outside", ticklen=10, tickwidth=1.3, tickcolor="#555555")
axis_common = dict(showline=True, mirror=True, linecolor="#555555", linewidth=1.3, showgrid=False,
                   zeroline=False, **TICK)


def xaxis(dom, anchor):
    d = dict(axis_common)
    d.update(domain=dom, anchor=anchor, range=XRANGE, tickmode="array", tickvals=xt_vals, ticktext=xt_text,
             ticklabelstandoff=-9, tickfont=dict(family=FONT, size=22, color="#222222"))
    return d


def yaxis(dom, anchor, rng, vals, text, minor_vals=None):
    d = dict(axis_common)
    d.update(domain=dom, anchor=anchor, range=rng, tickmode="array", tickvals=vals, ticktext=text,
             tickangle=-90, tickfont=dict(family=FONT, size=20, color="#222222"), ticklabelstandoff=-3)
    if minor_vals:
        d["minor"] = dict(tickmode="array", tickvals=minor_vals, showgrid=False, **TICK)
    return d


def sci(v, e):
    if v == 0:
        return "0"
    s = "\u2212" if v < 0 else ""
    return f"{s}{abs(v)} \u00d7 10<sup>{e}</sup>"


yA_vals = [-0.001, 0, 0.001, 0.002]
yA_text = ["\u22120.001", "0", "0.001", "0.002"]
yB_vals = [-1, 0, 1, 3]
yB_minor = [2]
yC_vals = [-1, 0, 1, 3, 5]
yC_minor = [2, 4]
yD_vals = [-1, 0, 1, 3]
yD_minor = [2]

fig.update_layout(
    width=W, height=H, margin=dict(l=0, r=0, t=0, b=0), autosize=False,
    paper_bgcolor="white", plot_bgcolor="white", showlegend=False,
    font=dict(family=FONT, size=20, color="#222222"),
    xaxis=xaxis(XDOM_L, "y"), yaxis=yaxis(YDOM_T, "x", [-0.0017045, 0.003216], yA_vals, yA_text),
    xaxis2=xaxis(XDOM_R, "y2"),
    yaxis2=yaxis(YDOM_T, "x2", [-1.011, 3.763], yB_vals, [sci(v, 6) for v in yB_vals], yB_minor),
    xaxis3=xaxis(XDOM_L, "y3"),
    yaxis3=yaxis(YDOM_B, "x3", [-1.569, 5.58], yC_vals, [sci(v, 5) for v in yC_vals], yC_minor),
    xaxis4=xaxis(XDOM_R, "y4"),
    yaxis4=yaxis(YDOM_B, "x4", [-1.496, 3.533], yD_vals, [sci(v, 5) for v in yD_vals], yD_minor),
)

shapes = []
annotations = []

# dashed zero lines
for xr, yr in [("x", "y"), ("x2", "y2"), ("x3", "y3"), ("x4", "y4")]:
    shapes.append(dict(type="line", xref=xr, yref=yr, x0=XRANGE[0], x1=XRANGE[1], y0=0, y1=0, layer="below",
                       line=dict(color="#666666", width=1.2, dash="dash")))

# arrows in panel A
arrow_cols = ["#7aaedb", "#27237a", "#4a8c2a"]
for ax_, col in zip(A_arrow_x, arrow_cols):
    annotations.append(dict(x=ax_, y=A_arrow_tip, ax=ax_, ay=A_arrow_top, xref="x", yref="y", axref="x",
                            ayref="y", showarrow=True, arrowhead=4, arrowsize=1.5, arrowwidth=3,
                            arrowcolor=col, text=" "))

# panel letters
for lab, x, y in [("A", 500, 77), ("B", 1039, 76), ("C", 498, 589), ("D", 1038, 589)]:
    annotations.append(dict(text=f"<b>{lab}</b>", x=px2x(x), y=px2y(y), xref="paper", yref="paper",
                            showarrow=False, font=dict(family=FONT, size=24, color="#111111"),
                            xanchor="center", yanchor="middle"))

# axis titles
for cx, cy in [(304, 540), (843, 540), (304, 1048), (843, 1048)]:
    annotations.append(dict(text="Ambient temperature [\u00b0C]", x=px2x(cx), y=px2y(cy), xref="paper",
                            yref="paper", showarrow=False, font=dict(family=FONT, size=22, color="#222222"),
                            xanchor="center", yanchor="middle"))
for txt, cx, cy in [("Magnitude of change", 19, 279), ("Variable importance", 560, 279),
                    ("Variable importance", 19, 783), ("Variable importance", 560, 783)]:
    annotations.append(dict(text=txt, x=px2x(cx), y=px2y(cy), xref="paper", yref="paper", showarrow=False,
                            textangle=-90, font=dict(family=FONT, size=22, color="#222222"),
                            xanchor="center", yanchor="middle"))


def swatch(x0, x1, yc, h, key):
    s = STY[key]
    shapes.append(dict(type="rect", xref="paper", yref="paper", x0=px2x(x0), x1=px2x(x1),
                       y0=px2y(yc + h / 2), y1=px2y(yc - h / 2), fillcolor=s["sw_fill"],
                       line=dict(color=s["sw_edge"], width=1)))
    shapes.append(dict(type="line", xref="paper", yref="paper", x0=px2x(x0), x1=px2x(x1), y0=px2y(yc),
                       y1=px2y(yc), line=dict(color=s["line"], width=2.2)))


def subtxt(main, sub):
    return f"{main}<sub><span style='font-size:14px'>{sub}</span></sub>"


# top legend
top_items = [(subtxt("\u03b2Temp", "summer"), "ts", 115, 148), (subtxt("\u03b2Temp", "year"), "ty", 262, 293),
             (subtxt("\u03b2Prec", "summer"), "ps", 415, 446), (subtxt("\u03b2Prec", "year"), "py", 563, 594),
             ("Curvature", "cu", 715, 746), ("Solar radiation", "so", 863, 895)]
for txt, key, sx, tx in top_items:
    swatch(sx, sx + 27, 21, 19, key)
    annotations.append(dict(text=txt, x=px2x(tx), y=px2y(21), xref="paper", yref="paper", showarrow=False,
                            xanchor="left", yanchor="middle", font=dict(family=FONT, size=20, color="#222222")))

# panel A legend
a_items = [("NDVI", "ndvi", 73), ("Summer snow", "ss", 101), ("Year\u2212round snow", "yr", 128)]
for txt, key, yc in a_items:
    swatch(80, 101, yc, 15, key)
    annotations.append(dict(text=txt, x=px2x(103), y=px2y(yc), xref="paper", yref="paper", showarrow=False,
                            xanchor="left", yanchor="middle", font=dict(family=FONT, size=20, color="#222222")))

fig.update_layout(shapes=shapes, annotations=annotations)
fig.write_html("out.html")
